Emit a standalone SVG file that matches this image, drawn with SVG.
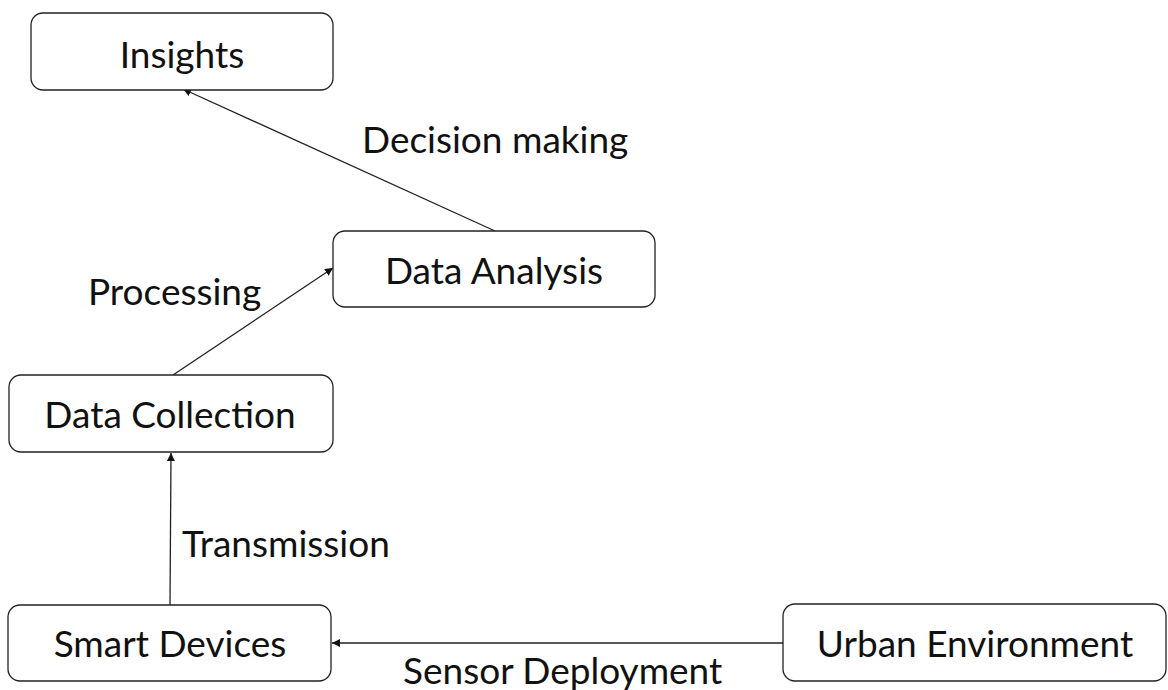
<svg xmlns="http://www.w3.org/2000/svg" width="1168" height="690" viewBox="0 0 1168 690">
<defs>
<style>
.box{fill:#fff;stroke:#222;stroke-width:1.3}
.t{font-family:Lato,"Open Sans",sans-serif;font-size:37px;fill:#111;text-anchor:middle}
.lbl{font-family:Lato,"Open Sans",sans-serif;font-size:37px;fill:#111}
.c{stroke:#222;stroke-width:1.3;fill:none;marker-end:url(#ah)}
</style>
<marker id="ah" viewBox="0 0 10 10" refX="10" refY="5" markerWidth="8" markerHeight="8" markerUnits="userSpaceOnUse" orient="auto"><path d="M0,0 L10,5 L0,10 z" fill="#111"/></marker>
</defs>
<rect width="1168" height="690" fill="#fff"/>
<g id="connectors">
<line class="c" x1="495" y1="231" x2="183" y2="89"/>
<line class="c" x1="173" y1="375" x2="333" y2="268"/>
<line class="c" x1="170" y1="605" x2="171" y2="453"/>
<line class="c" x1="783" y1="643" x2="332" y2="643"/>
</g>
<g id="labels">
<text class="lbl" x="362" y="153">Decision making</text>
<text class="lbl" x="88" y="305">Processing</text>
<text class="lbl" x="182" y="557">Transmission</text>
<text class="lbl" x="403" y="684">Sensor Deployment</text>
</g>
<g id="insights"><rect class="box" x="31" y="13" width="302" height="77" rx="12"/><text class="t" x="182" y="68">Insights</text></g>
<g id="data-analysis"><rect class="box" x="333" y="231" width="322" height="76" rx="12"/><text class="t" x="494" y="284">Data Analysis</text></g>
<g id="data-collection"><rect class="box" x="9" y="375" width="324" height="77" rx="12"/><text class="t" x="170" y="428">Data Collection</text></g>
<g id="smart-devices"><rect class="box" x="8" y="605" width="323" height="76" rx="12"/><text class="t" x="170" y="657">Smart Devices</text></g>
<g id="urban-environment"><rect class="box" x="783" y="604" width="383" height="77" rx="12"/><text class="t" x="975" y="657">Urban Environment</text></g>
</svg>
